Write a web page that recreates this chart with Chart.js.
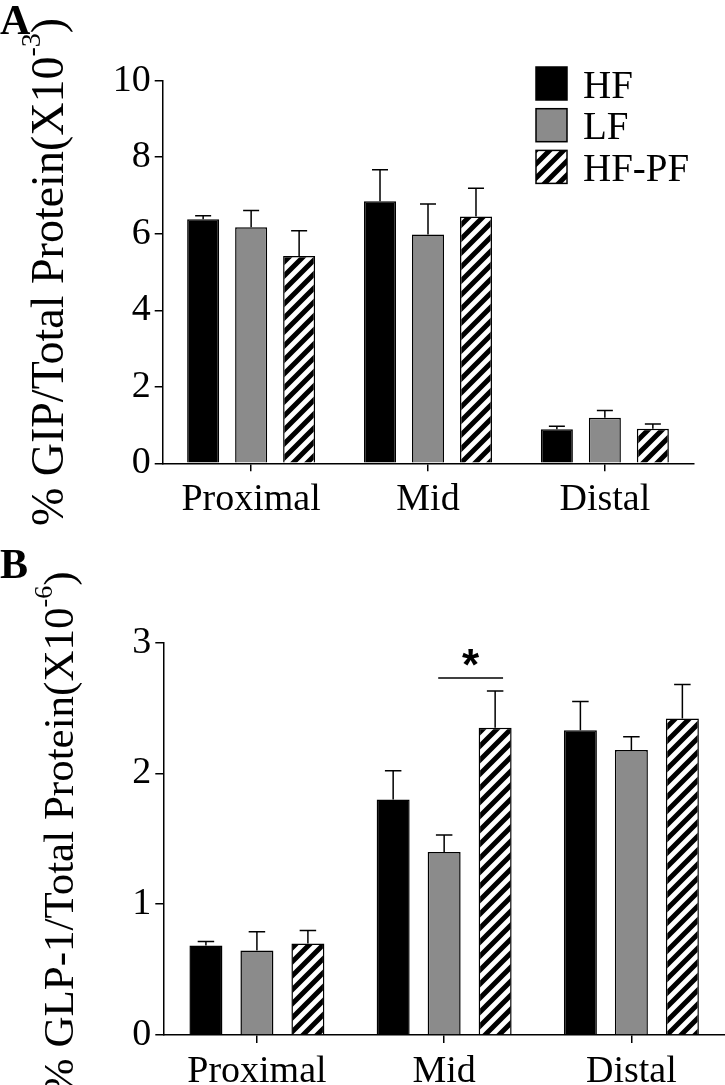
<!DOCTYPE html>
<html>
<head>
<meta charset="utf-8">
<script src="https://cdn.jsdelivr.net/npm/chart.js@4.4.1/dist/chart.umd.min.js"></script>
<style>
  html, body { margin: 0; padding: 0; background: #fff; }
  #wrap { position: relative; width: 725px; height: 1085px; overflow: hidden; background: #fff; }
  canvas { position: absolute; left: 0; }
  #cA { top: 0; }
  #cB { top: 540px; }
</style>
</head>
<body>
<div id="wrap">
  <canvas id="cA" width="725" height="540"></canvas>
  <canvas id="cB" width="725" height="545"></canvas>
</div>
<script>
// ---------------- DATA ----------------
const categories = ['Proximal', 'Mid', 'Distal'];
const seriesLabels = ['HF', 'LF', 'HF-PF'];

// Panel A: % GIP / Total Protein (x10^-3)
const gipHF       = [6.38, 6.85, 0.89];
const gipHFsem    = [0.09, 0.82, 0.08];
const gipLF       = [6.17, 5.98, 1.19];
const gipLFsem    = [0.44, 0.80, 0.19];
const gipHFPF     = [5.42, 6.45, 0.90];
const gipHFPFsem  = [0.66, 0.74, 0.13];
const gipAxis     = { min: 0, max: 10, step: 2 };

// Panel B: % GLP-1 / Total Protein (x10^-6)
const glpHF       = [0.685, 1.80, 2.33];
const glpHFsem    = [0.03, 0.22, 0.22];
const glpLF       = [0.646, 1.40, 2.18];
const glpLFsem    = [0.144, 0.13, 0.10];
const glpHFPF     = [0.70, 2.35, 2.42];
const glpHFPFsem  = [0.10, 0.28, 0.26];
const glpAxis     = { min: 0, max: 3, step: 1 };

// significance marker in panel B: category index, from series, to series, level, label
const glpSig = [{ cat: 1, from: 1, to: 2, level: 2.73, label: '*' }];

// ---------------- STYLE ----------------
const SERIF = "'Liberation Serif', 'Times New Roman', serif";
const SANS = "'Liberation Sans', Arial, sans-serif";
const GRAY = '#8b8b8b';

function makeHatch(ctx) {
  const s = 14;
  const c = document.createElement('canvas');
  c.width = s; c.height = s;
  const g = c.getContext('2d');
  g.fillStyle = '#fff';
  g.fillRect(0, 0, s, s);
  g.strokeStyle = '#000';
  g.lineWidth = 5;
  g.beginPath();
  g.moveTo(-1, s + 1); g.lineTo(s + 1, -1);
  g.moveTo(-s / 2 - 1, s / 2 + 1); g.lineTo(s / 2 + 1, -s / 2 - 1);
  g.moveTo(s / 2 - 1, s * 1.5 + 1); g.lineTo(s * 1.5 + 1, s / 2 - 1);
  g.stroke();
  return ctx.createPattern(c, 'repeat');
}

// error bars (upper only) drawn through the scales
const errorBarPlugin = {
  id: 'errorBars',
  afterDatasetsDraw(chart) {
    const ctx = chart.ctx;
    const yScale = chart.scales.y;
    ctx.save();
    ctx.strokeStyle = '#000';
    ctx.lineWidth = 1.5;
    chart.data.datasets.forEach((ds, i) => {
      const meta = chart.getDatasetMeta(i);
      meta.data.forEach((el, j) => {
        const top = yScale.getPixelForValue(ds.data[j] + ds.sem[j]);
        const cap = el.width * 0.25;
        ctx.beginPath();
        ctx.moveTo(el.x, el.y);
        ctx.lineTo(el.x, top);
        ctx.moveTo(el.x - cap, top);
        ctx.lineTo(el.x + cap, top);
        ctx.stroke();
      });
    });
    ctx.restore();
  }
};

// decorations: panel letter, rotated y title with superscript, legend, significance
const decoPlugin = {
  id: 'deco',
  afterDraw(chart, args, o) {
    const ctx = chart.ctx;
    const ca = chart.chartArea;
    ctx.save();
    ctx.fillStyle = '#000';
    // panel letter
    ctx.font = 'bold 42px ' + SERIF;
    ctx.textAlign = 'left';
    ctx.textBaseline = 'alphabetic';
    ctx.fillText(o.letter, 0, o.letterY);

    // y title
    const mainF = o.titleSize + 'px ' + SERIF, supF = Math.round(o.titleSize * 0.61) + 'px ' + SERIF;
    ctx.font = mainF; const wMain = ctx.measureText(o.title).width;
    const wClose = ctx.measureText(')').width;
    ctx.font = supF; const wSup = ctx.measureText(o.sup).width;
    const total = wMain + wSup + wClose;
    const cy = (ca.top + ca.bottom) / 2 + o.titleShift;
    ctx.save();
    ctx.translate(o.titleX, cy);
    ctx.rotate(-Math.PI / 2);
    const start = -total / 2;
    ctx.font = mainF; ctx.fillText(o.title, start, 0);
    ctx.font = supF; ctx.fillText(o.sup, start + wMain, -o.titleSize * 0.5);
    ctx.font = mainF; ctx.fillText(')', start + wMain + wSup, 0);
    ctx.restore();

    // legend
    if (o.legend) {
      chart.data.datasets.forEach((ds, i) => {
        const bx = 536, by = 67 + i * 41.7, bw = 31, bh = 33;
        ctx.fillStyle = ds.backgroundColor;
        ctx.fillRect(bx, by, bw, bh);
        ctx.strokeStyle = '#000';
        ctx.lineWidth = 1.5;
        ctx.strokeRect(bx, by, bw, bh);
        ctx.fillStyle = '#000';
        ctx.font = '39px ' + SERIF;
        ctx.textBaseline = 'alphabetic';
        ctx.fillText(ds.label, 583, by + 30.5);
      });
    }

    // significance
    if (o.sig) {
      const yScale = chart.scales.y;
      o.sig.forEach(s => {
        const a = chart.getDatasetMeta(s.from).data[s.cat];
        const b = chart.getDatasetMeta(s.to).data[s.cat];
        const x1 = a.x - a.width * 0.18, x2 = b.x + b.width * 0.24;
        const y = yScale.getPixelForValue(s.level);
        ctx.strokeStyle = '#000';
        ctx.lineWidth = 1.5;
        ctx.beginPath(); ctx.moveTo(x1, y); ctx.lineTo(x2, y); ctx.stroke();
        ctx.font = 'bold 44px ' + SANS;
        ctx.textAlign = 'center';
        ctx.textBaseline = 'alphabetic';
        ctx.fillText(s.label, (x1 + x2) / 2, y + 2);
      });
    }
    ctx.restore();
  }
};

function makeChart(id, sets, axis, cfg) {
  const canvas = document.getElementById(id);
  const ctx = canvas.getContext('2d');
  const hatch = makeHatch(ctx);
  const fills = ['#000000', GRAY, hatch];
  const datasets = sets.map((s, i) => ({
    label: seriesLabels[i],
    data: s.v,
    sem: s.e,
    backgroundColor: fills[i],
    borderColor: '#000',
    borderWidth: 1.5,
    categoryPercentage: cfg.cp,
    barPercentage: cfg.bp
  }));
  return new Chart(ctx, {
    type: 'bar',
    data: { labels: categories, datasets },
    plugins: [errorBarPlugin, decoPlugin],
    options: {
      responsive: false,
      animation: false,
      devicePixelRatio: 1,
      layout: { padding: { top: cfg.padTop, right: cfg.padRight, left: 0, bottom: 0 } },
      plugins: {
        legend: { display: false },
        tooltip: { enabled: false },
        deco: cfg.deco
      },
      scales: {
        x: {
          type: 'category',
          offset: true,
          grid: { offset: false, drawOnChartArea: false, drawTicks: true, tickLength: 8, color: '#000', lineWidth: 1.5 },
          border: { display: true, color: '#000', width: 1.5 },
          ticks: { color: '#000', font: { family: SERIF, size: 38 }, padding: 6, maxRotation: 0, autoSkip: false },
          afterFit: s => { s.height = cfg.xHeight; }
        },
        y: {
          min: axis.min, max: axis.max,
          grid: { drawOnChartArea: false, drawTicks: true, tickLength: 8, color: '#000', lineWidth: 1.5 },
          border: { display: true, color: '#000', width: 1.5 },
          ticks: { stepSize: axis.step, color: '#000', font: { family: SERIF, size: 38 }, padding: 4 },
          afterFit: s => { s.width = cfg.yWidth; }
        }
      }
    }
  });
}

makeChart('cA', [
  { v: gipHF, e: gipHFsem }, { v: gipLF, e: gipLFsem }, { v: gipHFPF, e: gipHFPFsem }
], gipAxis, {
  cp: 0.814, bp: 0.667, padTop: 80.7, padRight: 31.7, xHeight: 76.7, yWidth: 162.7,
  deco: { letter: 'A', letterY: 34, title: '% GIP/Total Protein(X10', sup: '-3', titleX: 63, titleSize: 46, titleShift: 0, legend: true }
});

makeChart('cB', [
  { v: glpHF, e: glpHFsem }, { v: glpLF, e: glpLFsem }, { v: glpHFPF, e: glpHFPFsem }
], glpAxis, {
  cp: 0.817, bp: 0.647, padTop: 102.7, padRight: 0, xHeight: 50, yWidth: 163.3,
  deco: { letter: 'B', letterY: 38, title: '% GLP-1/Total Protein(X10', sup: '-6', titleX: 73, titleSize: 43, titleShift: -6, legend: false, sig: glpSig }
});
</script>
</body>
</html>
